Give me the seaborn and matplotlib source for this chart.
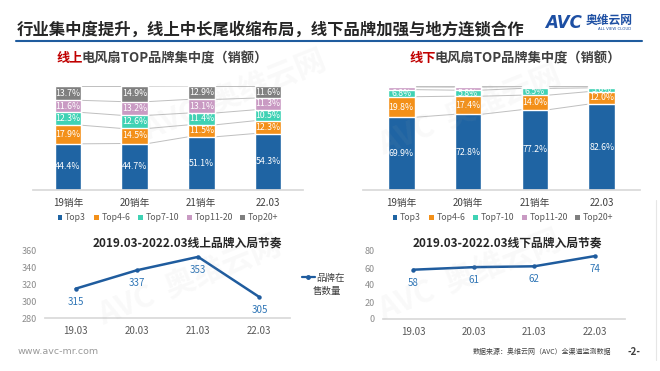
import matplotlib
matplotlib.use("Agg")
import numpy as np
import pandas as pd
import matplotlib.pyplot as plt
import seaborn as sns
from matplotlib.patches import Patch
from matplotlib.lines import Line2D

# data
bar_cats = ["19销年", "20销年", "21销年", "22.03"]
segments = ["Top3", "Top4-6", "Top7-10", "Top11-20", "Top20+"]
seg_colors = ["#1F64A3", "#F39019", "#3FD2B4", "#C99AC3", "#7F7F7F"]

online_share = {
    "Top3": [44.4, 44.7, 51.1, 54.3],
    "Top4-6": [17.9, 14.5, 11.5, 12.3],
    "Top7-10": [12.3, 12.6, 11.4, 10.5],
    "Top11-20": [11.6, 13.2, 13.1, 11.3],
    "Top20+": [13.7, 14.9, 12.9, 11.6],
}
offline_share = {
    "Top3": [69.9, 72.8, 77.2, 82.6],
    "Top4-6": [19.8, 17.4, 14.0, 12.0],
    "Top7-10": [6.8, 5.8, 6.5, 3.6],
    "Top11-20": [2.6, 2.9, 1.7, 1.3],
    "Top20+": [0.9, 1.1, 0.6, 0.5],
}

line_cats = ["19.03", "20.03", "21.03", "22.03"]
online_brands = [315, 337, 353, 305]
offline_brands = [58, 61, 62, 74]

sns.set_theme(style="white")
plt.rcParams["font.family"] = ["Noto Sans CJK SC", "DejaVu Sans"]
plt.rcParams["axes.unicode_minus"] = False

W, H = 660, 371
fig = plt.figure(figsize=(6.6, 3.71), dpi=100)
fig.patch.set_facecolor("white")


def px_axes(x0, y0, x1, y1):
    return fig.add_axes([x0 / W, 1 - y1 / H, (x1 - x0) / W, (y1 - y0) / H])


def ftext(x, y, s, **kw):
    return fig.text(x / W, 1 - y / H, s, **kw)


# header
ftext(17, 30, "行业集中度提升，线上中长尾收缩布局，线下品牌加强与地方连锁合作",
      fontsize=11.8, fontweight="bold", color="#262626", va="center")
fig.add_artist(Line2D([16 / W, 642 / W], [1 - 41 / H, 1 - 41 / H],
                      color="#1F5C9E", lw=1.5))
ftext(545, 23, "AVC", fontsize=12, fontweight="heavy", style="italic",
      color="#1D4FA3", va="center", family="DejaVu Sans")
ftext(586, 20, "奥维云网", fontsize=8.5, fontweight="bold", color="#1D4FA3", va="center")
ftext(598, 29, "ALL VIEW CLOUD", fontsize=2.8, color="#1D4FA3", va="center",
      family="DejaVu Sans")
fig.add_artist(Line2D([656 / W, 656 / W], [1 - 200 / H, 1 - 360 / H],
                      color="#E6E6E6", lw=0.8))


def two_color_title(x, y, red, rest):
    t = ftext(x, y, red, fontsize=9.5, fontweight="bold", color="#C00000", va="center")
    fig.canvas.draw()
    bb = t.get_window_extent(renderer=fig.canvas.get_renderer())
    ftext(x + bb.width - 2, y, rest, fontsize=9.5, fontweight="bold",
          color="#404040", va="center")


def stacked_bars(ax, share, xlim):
    df = pd.DataFrame(share, index=bar_cats)
    cum = df.cumsum(axis=1)
    # draw cumulative totals from top layer down so each hides the one above
    for seg, col in list(zip(segments, seg_colors))[::-1]:
        sns.barplot(x=bar_cats, y=cum[seg].values, color=col, width=0.4,
                    saturation=1, ax=ax, zorder=2)
    # series lines between bars
    for seg in segments:
        vals = cum[seg].values
        for i in range(len(bar_cats) - 1):
            ax.plot([i + 0.2, i + 0.8], [vals[i], vals[i + 1]],
                    color="#BFBFBF", lw=0.7, zorder=1)
    # labels
    for seg in segments:
        for i, cat in enumerate(bar_cats):
            v = df.loc[cat, seg]
            if v < 3:
                continue
            ax.text(i, cum.loc[cat, seg] - v / 2, f"{v:.1f}%", ha="center",
                    va="center", fontsize=6.3, color="white", zorder=3)
    ax.set_xlim(*xlim)
    ax.set_ylim(0, 100)
    ax.set_yticks([])
    ax.set_ylabel("")
    sns.despine(ax=ax, left=True)
    ax.spines["bottom"].set_color("#D9D9D9")
    ax.tick_params(axis="x", length=0, labelsize=7, colors="#404040", pad=6)


ax1 = px_axes(33, 86, 303, 190)
stacked_bars(ax1, online_share, (-0.525, 3.525))
ax2 = px_axes(363, 86, 640, 190)
stacked_bars(ax2, offline_share, (-0.57, 3.57))

two_color_title(57, 58, "线上", "电风扇TOP品牌集中度（销额）")
two_color_title(410, 58, "线下", "电风扇TOP品牌集中度（销额）")

handles = [Patch(facecolor=c, edgecolor="none") for c in seg_colors]
for cx in (168, 503):
    fig.legend(handles, segments, loc="center", bbox_to_anchor=(cx / W, 1 - 218 / H),
               ncol=5, fontsize=6.3, frameon=False, handlelength=0.55,
               handleheight=0.55, handletextpad=0.3, columnspacing=0.9,
               labelcolor="#595959")


def line_panel(ax, vals, ylim, yticks):
    x = np.arange(len(vals))
    sns.lineplot(x=x, y=vals, ax=ax, color="#1F5C9E", lw=1.8, marker="o",
                 markersize=3.2, markeredgewidth=0)
    for xi, v in zip(x, vals):
        ax.annotate(str(v), (xi, v), xytext=(0, -13), textcoords="offset pixels",
                    ha="center", va="center", fontsize=7, color="#2E75B6")
    ax.set_xlim(-0.5, 3.5)
    ax.set_ylim(*ylim)
    ax.set_yticks(yticks)
    ax.set_xticks(x)
    ax.set_xticklabels(line_cats)
    sns.despine(ax=ax, left=True)
    ax.spines["bottom"].set_color("#D9D9D9")
    ax.tick_params(axis="y", length=0, labelsize=6.5, colors="#8C8C8C", pad=6)
    ax.tick_params(axis="x", length=0, labelsize=7, colors="#595959", pad=6)


ax3 = px_axes(45, 251, 290, 318)
line_panel(ax3, online_brands, (280, 360), [280, 300, 320, 340, 360])
ax4 = px_axes(383, 251, 625, 319)
line_panel(ax4, offline_brands, (0, 80), [0, 20, 40, 60, 80])

ftext(187, 243, "2019.03-2022.03线上品牌入局节奏", fontsize=8.5, fontweight="bold",
      color="#262626", ha="center", va="center")
ftext(507, 243, "2019.03-2022.03线下品牌入局节奏", fontsize=8.5, fontweight="bold",
      color="#262626", ha="center", va="center")

# line legend
fig.legend([Line2D([], [], color="#1F5C9E", lw=1.6, marker="o", markersize=2.5)],
           ["品牌在"], loc="center left", bbox_to_anchor=(293 / W, 1 - 278 / H),
           frameon=False, fontsize=6.8, handlelength=1.4, handletextpad=0.2,
           labelcolor="#404040")
ftext(313, 291, "售数量", fontsize=6.8, color="#404040", va="center")

# watermarks
for (wx, wy) in [(235, 95), (470, 110), (190, 280), (470, 275)]:
    ftext(wx, wy, "AVC  奥维云网", fontsize=22, fontweight="heavy", color="#B0B0B0",
          alpha=0.07, rotation=22, ha="center", va="center")

# footer
ftext(18, 352, "www.avc-mr.com", fontsize=6.8, color="#9A9A9A", va="center",
      family="DejaVu Sans")
ftext(473, 352, "数据来源：奥维云网（AVC）全渠道监测数据", fontsize=5,
      color="#404040", va="center")
ftext(627, 352, "-2-", fontsize=7, color="#404040", va="center", fontweight="bold")

fig.savefig("out.png", dpi=100)
